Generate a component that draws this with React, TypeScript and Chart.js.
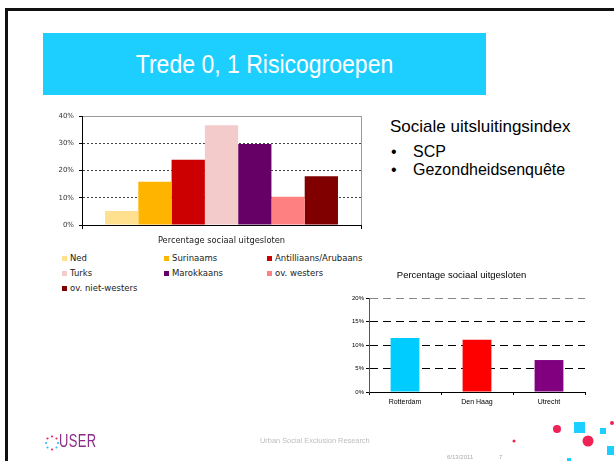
import React, { useEffect, useRef } from "react";
import { Chart, registerables } from "chart.js";
Chart.register(...registerables);

// ---- Data: chart 1 (groups) ----
const groupLabels = ["Ned", "Surinaams", "Antilliaans/Arubaans", "Turks", "Marokkaans", "ov. westers", "ov. niet-westers"];
const groupValues = [5.1, 15.9, 23.9, 36.6, 29.7, 10.4, 17.9];
const groupColors = ["#FFE08F", "#FFB400", "#CC0000", "#F3CBCB", "#660066", "#FF8080", "#800000"];
const yTicks1 = [0, 10, 20, 30, 40];
const xTitle1 = "Percentage sociaal uitgesloten";

// ---- Data: chart 2 (cities) ----
const cities = ["Rotterdam", "Den Haag", "Utrecht"];
const cityValues = [11.5, 11.1, 6.8];
const cityColors = ["#00CCFF", "#FF0000", "#800080"];
const yTicks2 = [0, 5, 10, 15, 20];
const title2 = "Percentage sociaal uitgesloten";

// ---- Slide text ----
const slideTitle = "Trede 0, 1 Risicogroepen";
const sideHeading = "Sociale uitsluitingsindex";
const sideBullets = ["SCP", "Gezondheidsenquête"];
const footerText = "Urban Social Exclusion Research";
const footerDate = "6/13/2011";
const footerPage = "7";

const rightFrame = {
  id: "rightFrame",
  afterDraw(chart: any, _args: any, opts: any) {
    if (!opts || !opts.color) return;
    const { ctx, chartArea } = chart;
    const x = Math.round(chartArea.right) + 0.5;
    ctx.save();
    ctx.strokeStyle = opts.color;
    ctx.lineWidth = 1;
    ctx.beginPath();
    ctx.moveTo(x, chartArea.top);
    ctx.lineTo(x, chartArea.bottom);
    ctx.stroke();
    ctx.restore();
  },
};

function GroupChart() {
  const ref = useRef<HTMLCanvasElement>(null);
  useEffect(() => {
    const chart = new Chart(ref.current as HTMLCanvasElement, {
      type: "bar",
      data: {
        labels: [""],
        datasets: groupLabels.map((l, i) => ({
          label: l,
          data: [groupValues[i]],
          backgroundColor: groupColors[i],
          borderWidth: 0,
          categoryPercentage: 0.835,
          barPercentage: 1,
        })),
      },
      options: {
        animation: false,
        responsive: false,
        maintainAspectRatio: false,
        layout: { padding: { top: 10, right: 9, left: 0, bottom: 0 } },
        plugins: {
          legend: { display: false },
          tooltip: { enabled: false },
          rightFrame: { color: "#999" },
        } as any,
        scales: {
          x: {
            ticks: { display: false },
            grid: { offset: true, drawOnChartArea: false, drawTicks: true, tickLength: 4, color: "#000" },
            border: { color: "#000" },
            title: {
              display: true,
              text: xTitle1,
              font: { family: "DejaVu Sans", size: 8.3 },
              color: "#222",
              padding: { top: 0, bottom: 5 },
            },
            afterFit: (s: any) => { s.height = 26; },
          },
          y: {
            min: 0,
            max: 40,
            afterBuildTicks: (s: any) => { s.ticks = yTicks1.map((v) => ({ value: v })); },
            ticks: {
              callback: (v: any) => v + "%",
              font: { family: "DejaVu Sans", size: 7 },
              color: "#333",
              padding: 5,
            },
            grid: {
              color: (c: any) => (c.tick && c.tick.value === 40 ? "#999" : c.tick && c.tick.value === 0 ? "#000" : "#444"),
              tickLength: 3,
              tickColor: "#000",
            },
            border: {
              color: "#000",
              dash: (c: any) => (c.tick && c.tick.value !== 0 && c.tick.value !== 40 ? [2, 2] : []),
            },
            afterFit: (s: any) => { s.width = 42; },
          },
        },
      } as any,
      plugins: [rightFrame],
    });
    return () => chart.destroy();
  }, []);
  return <canvas ref={ref} width={330} height={145} style={{ position: "absolute", left: 40, top: 106, width: 330, height: 145 }} />;
}

function CityChart() {
  const ref = useRef<HTMLCanvasElement>(null);
  useEffect(() => {
    const chart = new Chart(ref.current as HTMLCanvasElement, {
      type: "bar",
      data: {
        labels: cities,
        datasets: [
          {
            label: title2,
            data: cityValues,
            backgroundColor: cityColors,
            borderWidth: 0,
            categoryPercentage: 1,
            barPercentage: 0.4,
          },
        ],
      },
      options: {
        animation: false,
        responsive: false,
        maintainAspectRatio: false,
        layout: { padding: { top: 0, right: 13, left: 0, bottom: 0 } },
        plugins: {
          legend: { display: false },
          tooltip: { enabled: false },
          title: {
            display: true,
            text: title2,
            font: { family: "Liberation Sans, Arial", size: 9.5, weight: "normal" },
            color: "#000",
            padding: { top: 7.3, bottom: 17.3 },
          },
        },
        scales: {
          x: {
            ticks: { font: { family: "Liberation Sans, Arial", size: 7 }, color: "#000", padding: 3, maxRotation: 0 },
            grid: { offset: true, drawOnChartArea: false, drawTicks: true, tickLength: 3, color: "#000" },
            border: { color: "#000" },
            afterFit: (s: any) => { s.height = 20; },
          },
          y: {
            min: 0,
            max: 20,
            afterBuildTicks: (s: any) => { s.ticks = yTicks2.map((v) => ({ value: v })); },
            ticks: {
              callback: (v: any) => v + "%",
              font: { family: "Liberation Sans, Arial", size: 6 },
              color: "#000",
              padding: 2,
            },
            grid: {
              color: (c: any) => (c.tick && c.tick.value === 20 ? "#888" : "#000"),
              tickLength: 3,
              tickColor: "#000",
            },
            border: {
              color: "#555",
              dash: (c: any) => (c.tick && c.tick.value !== 0 ? [8, 5] : []),
            },
            afterFit: (s: any) => { s.width = 31; },
          },
        },
      } as any,
    });
    return () => chart.destroy();
  }, []);
  return <canvas ref={ref} width={260} height={150} style={{ position: "absolute", left: 338, top: 262, width: 260, height: 150 }} />;
}

const legendCols = [62, 164, 267];

export default function App() {
  const sans = "'Liberation Sans', Arial, sans-serif";
  return (
    <div style={{ position: "absolute", left: 0, top: 0, width: 614, height: 461, background: "#fff", overflow: "hidden", fontFamily: sans }}>
      {/* frame */}
      <div style={{ position: "absolute", left: 5, top: 8, width: 3, height: 453, background: "#111" }} />
      <div style={{ position: "absolute", left: 5, top: 8, width: 609, height: 3, background: "#111" }} />
      {/* title bar */}
      <div style={{ position: "absolute", left: 43, top: 33, width: 443, height: 62, background: "#1DCFFF", display: "flex", alignItems: "center", justifyContent: "center" }}>
        <span style={{ color: "#fff", fontSize: 26, lineHeight: "30px", display: "inline-block", transform: "scaleX(0.885)", whiteSpace: "nowrap" }}>{slideTitle}</span>
      </div>

      <GroupChart />
      {/* legend chart 1 */}
      {groupLabels.map((l, i) => {
        const col = i % 3;
        const row = Math.floor(i / 3);
        const cy = 258 + row * 15;
        return (
          <div key={l} style={{ position: "absolute", left: legendCols[col], top: cy - 6, height: 12, display: "flex", alignItems: "center", whiteSpace: "nowrap" }}>
            <span style={{ display: "inline-block", width: 5, height: 5, background: groupColors[i], marginRight: 3 }} />
            <span style={{ fontFamily: "'DejaVu Sans'", fontSize: 8.5, color: "#222" }}>{l}</span>
          </div>
        );
      })}

      {/* side text */}
      <div style={{ position: "absolute", left: 390, top: 118, fontSize: 17, lineHeight: "18px", color: "#000", whiteSpace: "nowrap" }}>{sideHeading}</div>
      {sideBullets.map((b, i) => (
        <div key={b} style={{ position: "absolute", left: 391, top: 143 + i * 18, fontSize: 16, lineHeight: "18px", color: "#000", whiteSpace: "nowrap" }}>
          <span style={{ display: "inline-block", width: 22 }}>•</span>
          {b}
        </div>
      ))}

      <CityChart />

      {/* footer */}
      <svg style={{ position: "absolute", left: 0, top: 400 }} width={614} height={61}>
        {[
          [52, 36.5, "#EE2A5B"], [56.5, 38.5, "#EE2A5B"], [58, 43, "#29C5F6"], [56.5, 47.5, "#29C5F6"],
          [52, 49.5, "#EE2A5B"], [47.5, 47.5, "#29C5F6"], [46, 43, "#29C5F6"], [47.5, 38.5, "#EE2A5B"],
        ].map((d, i) => (
          <circle key={i} cx={d[0] as number} cy={d[1] as number} r={1.1} fill={d[2] as string} />
        ))}
        <circle cx={514} cy={41} r={1.5} fill="#EE2255" />
        <circle cx={557} cy={29} r={4} fill="#EE2255" />
        <rect x={574} y={22} width={11} height={11} fill="#1DCFFF" />
        <circle cx={588} cy={41} r={5.5} fill="#EE2255" />
        <rect x={600} y={28} width={6} height={6} fill="#1DCFFF" />
        <circle cx={612} cy={23} r={2} fill="#EE2255" />
        <rect x={607} y={46} width={8} height={9} fill="#1DCFFF" />
        <rect x={567} y={58} width={4} height={4} fill="#1DCFFF" />
      </svg>
      <div style={{ position: "absolute", left: 59, top: 431, fontSize: 18, lineHeight: "20px", color: "#8B2C86", whiteSpace: "nowrap", transform: "scaleX(0.72)", transformOrigin: "left center", letterSpacing: 0.5 }}>USER</div>
      <div style={{ position: "absolute", left: 260, top: 436, fontSize: 7.4, lineHeight: "10px", color: "#BDBDBD", whiteSpace: "nowrap" }}>{footerText}</div>
      <div style={{ position: "absolute", left: 447, top: 453, fontSize: 6, lineHeight: "8px", color: "#AAAAAA", whiteSpace: "nowrap" }}>{footerDate}</div>
      <div style={{ position: "absolute", left: 499, top: 453, fontSize: 6, lineHeight: "8px", color: "#AAAAAA", whiteSpace: "nowrap" }}>{footerPage}</div>
    </div>
  );
}
